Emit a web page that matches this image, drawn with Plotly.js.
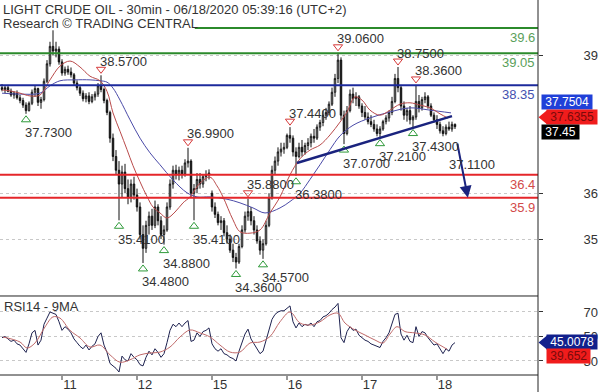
<!DOCTYPE html>
<html>
<head>
<meta charset="utf-8">
<script src="https://cdn.plot.ly/plotly-3.0.1.min.js"></script>
<style>html,body{margin:0;padding:0;background:#fff;}#chart{width:600px;height:392px;}</style>
</head>
<body>
<div id="chart"></div>
<script>
// ---- Price bars (30-min candles) ----
const open  = [38.30,38.26,38.30,38.22,38.14,38.18,38.08,38.02,37.92,37.80,37.96,38.20,38.28,37.98,38.04,38.44,38.82,39.20,39.10,39.14,
38.86,38.62,38.70,38.64,38.58,38.40,38.30,38.18,38.06,38.12,38.00,38.10,38.16,38.34,38.26,38.02,37.76,37.20,36.80,36.50,
36.20,36.46,36.10,35.90,36.20,35.96,35.70,35.10,34.80,35.30,35.50,35.30,35.70,35.40,35.10,35.20,35.70,36.20,36.50,36.40,
36.50,36.42,36.66,36.70,36.00,36.10,36.30,36.20,36.36,36.40,36.00,35.70,35.54,35.36,35.40,35.14,35.00,34.76,34.60,34.50,
34.84,35.20,35.50,35.60,35.40,35.20,34.96,34.76,34.90,35.30,35.90,36.50,36.70,36.90,36.96,37.00,37.26,37.20,36.90,36.80,
37.00,36.90,37.04,37.10,37.24,37.20,37.44,37.54,37.70,37.76,37.94,38.20,38.50,38.90,37.70,37.30,37.80,38.16,38.06,38.10,
37.90,37.76,37.66,37.56,37.50,37.40,37.30,37.40,37.56,37.64,37.76,38.00,38.50,38.30,37.90,37.70,37.80,37.60,37.66,38.00,
37.86,38.04,38.10,37.90,37.70,37.60,37.50,37.36,37.30,37.44,37.40,37.50];
const high  = [38.38,38.34,38.36,38.28,38.22,38.24,38.14,38.08,37.98,38.00,38.26,38.34,38.30,38.10,38.50,38.90,39.30,39.55,39.30,39.20,
38.92,38.76,38.78,38.74,38.62,38.46,38.36,38.24,38.18,38.20,38.16,38.22,38.40,38.57,38.30,38.06,37.80,37.30,36.94,36.70,
36.60,36.64,36.30,36.30,36.36,36.10,35.80,35.30,35.40,35.60,35.66,35.84,35.76,35.50,35.30,35.80,36.30,36.60,36.62,36.58,
36.60,36.74,36.99,36.74,36.20,36.44,36.44,36.40,36.50,36.52,36.06,35.80,35.60,35.50,35.46,35.30,35.10,34.90,34.70,34.90,
35.30,35.60,35.88,35.70,35.50,35.30,35.06,35.00,35.40,36.00,36.60,36.80,37.00,37.10,37.10,37.30,37.44,37.26,37.00,37.10,
37.16,37.10,37.20,37.30,37.40,37.50,37.60,37.80,37.86,38.00,38.30,38.60,39.06,38.96,37.80,37.90,38.26,38.30,38.20,38.14,
37.96,37.90,37.76,37.70,37.60,37.50,37.46,37.60,37.70,37.80,38.10,38.60,38.75,38.36,38.00,37.86,37.90,37.70,38.36,38.14,
38.10,38.20,38.14,37.96,37.76,37.70,37.56,37.46,37.50,37.56,37.56,37.52];
const low   = [38.22,38.18,38.20,38.10,38.06,38.04,37.96,37.86,37.73,37.78,37.92,38.10,37.90,37.84,38.00,38.40,38.76,39.00,38.96,38.80,
38.56,38.56,38.58,38.52,38.34,38.24,38.12,38.00,37.98,37.94,37.96,38.02,38.10,38.20,37.96,37.70,37.10,36.70,36.40,35.41,
35.90,36.00,35.76,35.80,35.86,35.60,35.00,34.48,34.70,35.10,35.20,35.24,35.30,35.00,34.88,35.16,35.64,36.10,36.30,36.28,
36.32,36.36,36.56,35.90,35.41,36.00,36.10,36.12,36.26,36.30,35.60,35.46,35.30,35.20,35.06,34.90,34.70,34.50,34.36,34.46,
34.80,35.14,35.40,35.30,35.10,34.90,34.66,34.57,34.86,35.26,35.86,36.40,36.60,36.80,36.86,36.96,37.10,36.80,36.38,36.76,
36.80,36.84,36.94,37.00,37.10,37.16,37.36,37.46,37.60,37.70,37.90,38.10,38.40,37.60,37.07,37.26,37.76,37.96,37.90,37.84,
37.66,37.60,37.50,37.44,37.34,37.24,37.21,37.36,37.50,37.56,37.70,37.96,38.20,37.80,37.60,37.56,37.50,37.43,37.60,37.76,
37.80,37.96,37.84,37.66,37.54,37.40,37.30,37.24,37.26,37.36,37.34,37.40];
const close = [38.26,38.30,38.22,38.14,38.18,38.08,38.02,37.92,37.80,37.96,38.20,38.28,37.98,38.04,38.44,38.82,39.20,39.10,39.14,38.86,
38.62,38.70,38.64,38.58,38.40,38.30,38.18,38.06,38.12,38.00,38.10,38.16,38.34,38.26,38.02,37.76,37.20,36.80,36.50,36.20,
36.46,36.10,35.90,36.20,35.96,35.70,35.10,34.80,35.30,35.50,35.30,35.70,35.40,35.10,35.20,35.70,36.20,36.50,36.40,36.50,
36.42,36.66,36.70,36.00,36.10,36.30,36.20,36.36,36.40,36.44,35.70,35.54,35.36,35.40,35.14,35.00,34.76,34.60,34.50,34.84,
35.20,35.50,35.60,35.40,35.20,34.96,34.76,34.90,35.30,35.90,36.50,36.70,36.90,36.96,37.00,37.26,37.20,36.90,36.80,37.00,
36.90,37.04,37.10,37.24,37.20,37.44,37.54,37.70,37.76,37.94,38.20,38.50,38.90,37.70,37.30,37.80,38.16,38.06,38.10,37.90,
37.76,37.66,37.56,37.50,37.40,37.30,37.40,37.56,37.64,37.76,38.00,38.50,38.30,37.90,37.70,37.80,37.60,37.66,38.00,37.86,
38.04,38.10,37.90,37.70,37.60,37.50,37.36,37.30,37.44,37.40,37.50,37.45];

// ---- Moving averages on price (bar index, value) ----
const maRedX = [0,2.67,6,9.33,12.67,16,19.33,22.67,26,29.33,32.67,35,37,39.33,41.67,43.67,46,48.33,50.33,52.67,55,57.67,60.33,62.67,66,69.33,71.67,73.67,77,79.33,82.67,86,89.33,92.67,96,99.33,102.67,106,109.33,112.67,115,117.67,120,122.67,126,129.33,132.67,136,139.33,142.67,146,148.67];
const maRedY = [38.25,38.23,38.18,38.12,38.14,38.47,38.77,38.88,38.75,38.55,38.45,38.22,37.75,37.35,36.95,36.60,36.25,35.93,35.70,35.57,35.46,35.59,35.79,35.92,36.22,36.35,36.16,35.92,35.42,35.16,35.13,35.20,35.57,35.92,36.40,36.75,36.94,37.05,37.27,37.55,37.77,38.10,38.03,37.81,37.70,37.81,37.94,37.97,37.92,37.86,37.73,37.6355];
const maBlueX = [0,6,12.67,16,19.33,24.33,29.33,32.67,35,37,39.33,42.67,46,49.33,52.67,57,61.67,65,69.33,75,79.33,83.67,87.67,92.67,96,99.33,102.67,106,109.33,112.67,117,122.67,129.33,136,142.67,149.67];
const maBlueY = [38.18,38.16,38.18,38.34,38.45,38.47,38.47,38.45,38.42,38.29,38.03,37.60,37.20,36.88,36.62,36.29,36.01,35.92,35.92,35.87,35.79,35.68,35.57,35.68,35.82,36.00,36.30,36.62,36.95,37.25,37.48,37.64,37.77,37.86,37.81,37.7504];

// ---- Swing highs / lows ----
const hiIdx = [33,62,82,96,112,132,138];
const hiVal = [38.57,36.99,35.88,37.44,39.06,38.75,38.36];
const loIdx = [8,39,47,54,64,78,87,98,114,126,137];
const loVal = [37.73,35.41,34.48,34.88,35.41,34.36,34.57,36.38,37.07,37.21,37.43];

// ---- Key levels ----
const levels = [39.6, 39.05, 38.35, 36.4, 35.9];
const levelText = ['39.6','39.05','38.35','36.4','35.9'];

// ---- Trendline and projection arrow ----
const trendIdx = [98.3, 150];
const trendVal = [36.66, 37.68];
const arrowIdx = [151.7, 155.3];
const arrowVal = [37.11, 35.9];

// ---- Last values ----
const lastBlueMA = 37.7504, lastRedMA = 37.6355, lastPrice = 37.45;
const lastRsi = 45.0078, lastRsiMA = 39.652;

// ---- RSI14 and its 9MA ----
const rsi = [49,50,48,46,47,44,43,40,37,44,53,55,43,47,60,65,70,69,68,62,
55,58,56,53,48,45,42,40,43,39,42,44,50,53,43,37,28,26,24,21,
34,31,30,36,33,31,27,26,33,38,35,40,37,33,36,45,55,60,58,61,
58,61,63,46,47,53,50,54,55,57,44,40,38,40,36,35,33,32,30,38,
46,52,56,48,44,40,36,38,46,56,64,68,70,71,71,73,75,62,57,61,
58,60,59,61,58,62,63,66,67,69,72,74,77,49,45,54,58,55,56,51,
49,47,46,44,43,42,41,46,49,53,60,68,69,52,47,51,46,45,58,50,
54,53,49,46,43,44,40,36,40,38,43,45];
const rsiMaX = [0.33,6,8.33,11,14.33,17,19.33,22.67,26,29.33,32.67,36,39.33,42.67,46,49.33,52.67,56,59.33,62.67,66,69.33,72.67,76,79.33,82.67,86,89.33,92.67,96,99.33,102.67,106,109.33,112,114.33,117.67,121,124.33,127,129.33,131.67,134.33,137.67,141,144.33,148.33];
const rsiMaY = [49.6,45.5,40.6,44.7,57.8,66,65,55,48.8,41.4,43,35,29,31,35,36.5,37.3,41.4,49.6,55.3,52.9,49.6,43,37.3,37.3,44.7,45.5,50,62,70,61,59.4,62,67.6,69,61,55.3,51.2,47.1,44.7,52,58,54,52.9,51.2,45.5,39.652];

// ---- Axis ticks ----
const dayTickIdx = [20,45,70,95,120,145];
const dayTickText = ['11','12','15','16','17','18'];
const priceTicks = [35,36,39];
const rsiTicks = [30,50,70];

const FONT = 'Liberation Sans, Arial, sans-serif';
const PRICE_DOM = [0.2107, 1], RSI_DOM = [0, 0.2107];
const PLOT_H = 375;
const idx = open.map((_, i) => i);
const rsiIdx = rsi.map((_, i) => i);
const levelColor = {'39.6':'#2b8a2b','39.05':'#2b8a2b','38.35':'#1c2a9c','36.4':'#e5262a','35.9':'#e5262a'};
const levelTextColor = {'39.6':'#5aa05a','39.05':'#5aa05a','38.35':'#4450b0','36.4':'#d24a4a','35.9':'#d24a4a'};

const traces = [
  {type:'scatter', mode:'markers', x:hiIdx, y:hiVal.map(v=>v+0.13), xaxis:'x', yaxis:'y',
   marker:{symbol:'triangle-down-open', size:8, color:'#d63a3a', line:{width:1}},
   hoverinfo:'skip', showlegend:false, cliponaxis:false},
  {type:'scatter', mode:'markers', x:loIdx, y:loVal.map(v=>v-0.13), xaxis:'x', yaxis:'y',
   marker:{symbol:'triangle-up-open', size:8, color:'#2f9a3a', line:{width:1}},
   hoverinfo:'skip', showlegend:false, cliponaxis:false},
  {type:'candlestick', x:idx, open:open, high:high, low:low, close:close, xaxis:'x', yaxis:'y',
   increasing:{line:{color:'#111',width:1}, fillcolor:'#ffffff'},
   decreasing:{line:{color:'#111',width:1}, fillcolor:'#111111'},
   whiskerwidth:0, hoverinfo:'skip', showlegend:false},
  {type:'scatter', mode:'lines', x:maBlueX, y:maBlueY, xaxis:'x', yaxis:'y',
   line:{color:'#4b4ba8', width:1, shape:'spline'}, hoverinfo:'skip', showlegend:false},
  {type:'scatter', mode:'lines', x:maRedX, y:maRedY, xaxis:'x', yaxis:'y',
   line:{color:'#b94a4a', width:1, shape:'spline'}, hoverinfo:'skip', showlegend:false},
  {type:'scatter', mode:'lines', x:rsiIdx, y:rsi, xaxis:'x', yaxis:'y2',
   line:{color:'#1e2250', width:1}, hoverinfo:'skip', showlegend:false},
  {type:'scatter', mode:'lines', x:rsiMaX, y:rsiMaY, xaxis:'x', yaxis:'y2',
   line:{color:'#c06a6a', width:1, shape:'spline'}, hoverinfo:'skip', showlegend:false}
];

const shapes = [];
levels.forEach((v, k) => {
  const key = levelText[k];
  shapes.push({type:'line', xref:'paper', yref:'y', x0:(k===0?0.362:0), x1:1, y0:v, y1:v,
    line:{color:levelColor[key], width:2}});
});
shapes.push({type:'line', xref:'x', yref:'y', x0:trendIdx[0], x1:trendIdx[1], y0:trendVal[0], y1:trendVal[1],
  line:{color:'#1a237e', width:2.5}});
// panel frames
shapes.push({type:'line', xref:'paper', yref:'paper', x0:0, x1:1, y0:RSI_DOM[1], y1:RSI_DOM[1], line:{color:'#222', width:1}});
shapes.push({type:'line', xref:'paper', yref:'paper', x0:0, x1:1, y0:0, y1:0, line:{color:'#222', width:1}});
shapes.push({type:'line', xref:'paper', yref:'paper', x0:1, x1:1, y0:-17/PLOT_H, y1:1, line:{color:'#222', width:1}});
// day tick marks
dayTickIdx.forEach(t => {
  shapes.push({type:'line', xref:'x', yref:'paper', x0:t, x1:t, y0:-1/PLOT_H, y1:-5/PLOT_H, line:{color:'#333', width:1}});
});
// pointer tips of the value tags
function tip(val, yref, unitsPerPx, color) {
  const h = 7 * unitsPerPx;
  return {type:'path', xref:'paper', yref:yref, fillcolor:color, line:{width:0},
    path:`M 1.001 ${val} L ${1 + 9/538} ${val + h} L ${1 + 9/538} ${val - h} Z`};
}
const priceUPP = (40.21 - 33.761) / (PLOT_H * (PRICE_DOM[1] - PRICE_DOM[0]));
const rsiUPP = (83.06 - 18.57) / (PLOT_H * (RSI_DOM[1] - RSI_DOM[0]));
shapes.push(tip(lastRedMA + 1 * priceUPP, 'y', priceUPP, '#f01c1c'));
shapes.push(tip(lastRsi, 'y2', rsiUPP, '#12208c'));

const annotations = [
  {xref:'paper', yref:'paper', x:0, y:1, xanchor:'left', yanchor:'top', xshift:1, showarrow:false,
   text:'LIGHT CRUDE OIL - 30min - 06/18/2020 05:39:16 (UTC+2)', font:{family:FONT, size:13, color:'#333'}},
  {xref:'paper', yref:'paper', x:0, y:1, xanchor:'left', yanchor:'top', xshift:1, yshift:-14, showarrow:false,
   text:'Research © TRADING CENTRAL', font:{family:FONT, size:13, color:'#333'}},
  {xref:'paper', yref:'paper', x:0, y:RSI_DOM[1], xanchor:'left', yanchor:'top', xshift:2, yshift:-1, showarrow:false,
   text:'RSI14 - 9MA', font:{family:FONT, size:13, color:'#333'}},
  {xref:'x', yref:'y', x:arrowIdx[1], y:arrowVal[1], axref:'x', ayref:'y', ax:arrowIdx[0], ay:arrowVal[0],
   showarrow:true, arrowhead:2, arrowsize:1.2, arrowwidth:2, arrowcolor:'#1a237e', text:'', standoff:0},
  {xref:'x', yref:'y', x:arrowIdx[0]-3.4, y:arrowVal[0], xanchor:'left', yanchor:'top', yshift:-13, showarrow:false,
   text:arrowVal[0].toFixed(4), font:{family:FONT, size:13, color:'#333'}}
];
// swing labels
hiIdx.forEach((ix, k) => annotations.push({xref:'x', yref:'y', x:ix, y:hiVal[k], xanchor:'left', yanchor:'middle',
  xshift:-3, yshift:14, showarrow:false, text:hiVal[k].toFixed(4), font:{family:FONT, size:13, color:'#333'}}));
loIdx.forEach((ix, k) => annotations.push({xref:'x', yref:'y', x:ix, y:loVal[k], xanchor:'left', yanchor:'middle',
  xshift:-3, yshift:-19, showarrow:false, text:loVal[k].toFixed(4), font:{family:FONT, size:13, color:'#333'}}));
// level labels
levels.forEach((v, k) => {
  const key = levelText[k];
  annotations.push({xref:'paper', yref:'y', x:1, y:v, xanchor:'right', yanchor:'top', xshift:-1, yshift:0,
    showarrow:false, text:key, font:{family:FONT, size:13, color:levelTextColor[key]}});
});
function box(val, label, yref, bg, fg, yshift, xshift) {
  return {xref:'paper', yref:yref, x:1, y:val, xanchor:'left', yanchor:'middle', xshift:xshift, yshift:yshift,
    showarrow:false, text:label, bgcolor:bg, borderpad:0, font:{family:FONT, size:12, color:fg}};
}
annotations.push(box(lastBlueMA, ' ' + lastBlueMA.toFixed(4) + ' ', 'y', '#2040d8', '#ffffff', 11, 3));
annotations.push(box(lastRedMA, ' ' + lastRedMA.toFixed(4) + ' ', 'y', '#f01c1c', '#7a0a0a', 1, 8));
annotations.push(box(lastPrice, ' ' + lastPrice.toFixed(2) + ' ', 'y', '#000000', '#ffffff', -5, 3));
annotations.push(box(lastRsi, ' ' + lastRsi.toFixed(4) + ' ', 'y2', '#12208c', '#ffffff', 1, 8));
annotations.push(box(lastRsiMA, ' ' + lastRsiMA.toFixed(3) + ' ', 'y2', '#f01c1c', '#7a0a0a', -7, 8));

const layout = {
  width:600, height:392, margin:{l:0, r:62, t:0, b:17},
  paper_bgcolor:'#ffffff', plot_bgcolor:'#ffffff',
  font:{family:FONT, size:13, color:'#333'},
  showlegend:false,
  xaxis:{domain:[0,1], range:[-0.67,178.67], anchor:'y2', tickmode:'array', tickvals:dayTickIdx, ticktext:dayTickText,
    ticks:'', showgrid:false, zeroline:false, showline:false,
    ticklabelshift:8, tickfont:{family:FONT,size:13,color:'#333'}, rangeslider:{visible:false}, fixedrange:true},
  yaxis:{domain:PRICE_DOM, range:[33.761,40.21], side:'right', anchor:'x', tickmode:'array', tickvals:priceTicks,
    ticks:'outside', ticklen:4, tickcolor:'#333', showgrid:true, gridcolor:'#c8c8c8', griddash:'dot', zeroline:false,
    showline:false, ticklabelstandoff:38, tickfont:{family:FONT,size:13,color:'#333'}, fixedrange:true},
  yaxis2:{domain:RSI_DOM, range:[18.57,83.06], side:'right', anchor:'x', tickmode:'array', tickvals:rsiTicks,
    ticks:'outside', ticklen:4, tickcolor:'#333', showgrid:true, gridcolor:'#c8c8c8', griddash:'dot', zeroline:false,
    showline:false, ticklabelstandoff:38, tickfont:{family:FONT,size:13,color:'#333'}, fixedrange:true},
  shapes:shapes, annotations:annotations
};

Plotly.newPlot('chart', traces, layout, {staticPlot:true, displayModeBar:false});
</script>
</body>
</html>
